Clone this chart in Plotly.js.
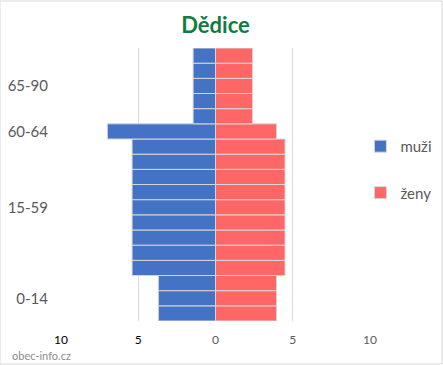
<!DOCTYPE html>
<html>
<head>
<meta charset="utf-8">
<script src="https://cdn.plot.ly/plotly-3.0.1.min.js"></script>
<style>
html,body{margin:0;padding:0;background:#fff;}
#chart{width:443px;height:365px;}
</style>
</head>
<body>
<div id="chart"></div>
<script>
// rows from bottom (youngest) to top (oldest)
const rowIndex = [0,1,2,3,4,5,6,7,8,9,10,11,12,13,14,15,16,17];
const muzi = [3.7,3.7,3.7, 5.4,5.4,5.4,5.4,5.4,5.4,5.4,5.4,5.4, 7.0, 1.45,1.45,1.45,1.45,1.45];
const zeny = [3.95,3.95,3.95, 4.5,4.5,4.5,4.5,4.5,4.5,4.5,4.5,4.5, 3.95, 2.4,2.4,2.4,2.4,2.4];
const groupTickRows = [1, 7, 12, 15];
const groupLabels = ['0-14', '15-59', '60-64', '65-90'];
const xTickVals = [-10, -5, 0, 5, 10];
const xTickText = ['<span style="color:#000">10</span>', '<span style="color:#000">5</span>', '0', '5', '10'];

const font = 'Lato, "Open Sans", sans-serif';

const traces = [
  {
    type: 'bar', orientation: 'h', name: 'muži',
    y: rowIndex, x: muzi.map(v => -v),
    marker: {color: '#4472C4', line: {color: '#D6D6D6', width: 1}},
    legendgroup: 'a', hoverinfo: 'skip'
  },
  {
    type: 'bar', orientation: 'h', name: 'ženy',
    y: rowIndex, x: zeny,
    marker: {color: '#FF6666', line: {color: '#D6D6D6', width: 1}},
    legendgroup: 'b', hoverinfo: 'skip'
  }
];

const layout = {
  width: 443, height: 365,
  margin: {l: 61, r: 73, t: 48, b: 44, autoexpand: false},
  paper_bgcolor: '#fff', plot_bgcolor: '#fff',
  barmode: 'relative', bargap: 0,
  font: {family: font, color: '#595959'},
  title: {
    text: '<b>Dědice</b>',
    font: {family: font, size: 22, color: '#107C41'},
    x: 0.5, xanchor: 'center', xref: 'paper',
    y: 1 - 25/365, yanchor: 'middle', yref: 'container'
  },
  xaxis: {
    range: [-10, 10], tickvals: xTickVals, ticktext: xTickText,
    showgrid: true, gridcolor: '#D9D9D9', gridwidth: 1, zeroline: false,
    showline: false, ticks: 'outside', ticklen: 8, tickcolor: 'rgba(0,0,0,0)',
    tickfont: {size: 12, color: '#595959', family: font}, fixedrange: true
  },
  yaxis: {
    range: [-0.5, 17.5], tickvals: groupTickRows, ticktext: groupLabels,
    showgrid: false, zeroline: false, showline: false,
    ticks: 'outside', ticklen: 9, tickcolor: 'rgba(0,0,0,0)',
    tickfont: {size: 15, color: '#595959', family: font}, fixedrange: true
  },
  legend: {
    x: 0.969, xanchor: 'left', y: 0.70, yanchor: 'top',
    traceorder: 'grouped', tracegroupgap: 24,
    font: {size: 15, color: '#595959', family: font},
    itemwidth: 30, bgcolor: 'rgba(0,0,0,0)'
  },
  showlegend: true,
  annotations: [{
    text: 'obec-info.cz', xref: 'paper', yref: 'paper',
    x: -51/309, xanchor: 'left', y: -34/273, yanchor: 'middle',
    showarrow: false, font: {size: 11, color: '#8C8C8C', family: font}
  }],
  shapes: [{
    type: 'rect', xref: 'paper', yref: 'paper',
    x0: -61/309, x1: 1 + 72/309, y0: -43/273, y1: 1 + 47/273,
    line: {color: '#D9D9D9', width: 1}, fillcolor: 'rgba(0,0,0,0)'
  }]
};

Plotly.newPlot('chart', traces, layout, {displayModeBar: false, staticPlot: true});
</script>
</body>
</html>
